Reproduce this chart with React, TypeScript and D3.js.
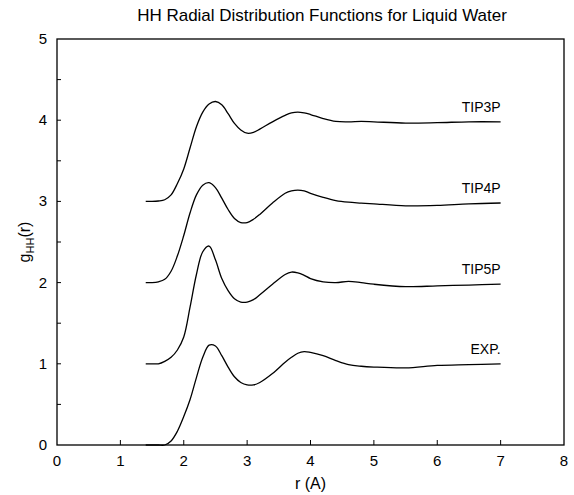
import React from "react";
import * as d3 from "d3";

const title = "HH Radial Distribution Functions for Liquid Water";
const xTicks = [0, 1, 2, 3, 4, 5, 6, 7, 8];
const yTicks = [0, 1, 2, 3, 4, 5];
const yMinorTicks = [0.5, 1.5, 2.5, 3.5, 4.5];

const rGrid = [1.4, 1.5, 1.6, 1.7, 1.8, 1.9, 2.0, 2.1, 2.2, 2.3, 2.4, 2.5, 2.6, 2.7, 2.8, 2.9, 3.0, 3.1, 3.2, 3.4, 3.6, 3.7, 3.8, 3.9, 4.0, 4.2, 4.4, 4.6, 4.8, 5.0, 5.5, 6.0, 6.5, 7.0];

const tip3p = [0, 0, 0.005, 0.02, 0.08, 0.22, 0.4, 0.66, 0.92, 1.1, 1.2, 1.23, 1.19, 1.08, 0.96, 0.88, 0.84, 0.85, 0.89, 0.98, 1.06, 1.09, 1.1, 1.09, 1.07, 1.02, 0.985, 0.98, 0.985, 0.98, 0.965, 0.97, 0.98, 0.98];
const tip4p = [0, 0, 0.01, 0.04, 0.14, 0.33, 0.58, 0.86, 1.08, 1.2, 1.23, 1.17, 1.04, 0.9, 0.79, 0.74, 0.74, 0.78, 0.84, 0.98, 1.1, 1.13, 1.14, 1.13, 1.1, 1.05, 1.01, 0.99, 0.98, 0.97, 0.945, 0.95, 0.97, 0.98];
const tip5p = [0, 0, 0.0, 0.03, 0.08, 0.17, 0.33, 0.7, 1.1, 1.38, 1.45, 1.28, 1.05, 0.9, 0.8, 0.76, 0.76, 0.79, 0.85, 0.98, 1.1, 1.13, 1.12, 1.09, 1.05, 1.01, 1.0, 1.015, 1.0, 0.98, 0.95, 0.96, 0.97, 0.98];
const expt = [0, 0, 0, 0, 0.05, 0.17, 0.35, 0.56, 0.83, 1.08, 1.23, 1.22, 1.1, 0.96, 0.84, 0.77, 0.74, 0.74, 0.77, 0.88, 1.02, 1.08, 1.13, 1.15, 1.14, 1.1, 1.04, 0.99, 0.97, 0.96, 0.95, 0.98, 0.99, 1.0];

const seriesNames = ["TIP3P", "TIP4P", "TIP5P", "EXP."];
const seriesValues = [tip3p, tip4p, tip5p, expt];
const seriesOffsets = [3, 2, 1, 0];

const W = 574;
const H = 495;
const m = { left: 57, right: 10, top: 39, bottom: 50 };

export default function App() {
  const x = d3.scaleLinear().domain([0, 8]).range([m.left, W - m.right]);
  const y = d3.scaleLinear().domain([0, 5]).range([H - m.bottom, m.top]);
  const line = d3
    .line<[number, number]>()
    .x((d) => x(d[0]))
    .y((d) => y(d[1]))
    .curve(d3.curveCatmullRom.alpha(0.5));

  const font = "'Liberation Sans', Arial, Helvetica, sans-serif";
  const x0 = x(0), x1 = x(8), yb = y(0), yt = y(5);

  return (
    <svg width={W} height={H} style={{ position: "absolute", left: 0, top: 0, background: "#fff" }} fontFamily={font}>
      <rect x={0} y={0} width={W} height={H} fill="#fff" />
      <text x={322} y={21} textAnchor="middle" fontSize={17}>{title}</text>
      <rect x={x0} y={yt} width={x1 - x0} height={yb - yt} fill="none" stroke="#000" strokeWidth={1.3} />
      {xTicks.slice(1, -1).map((t) => (
        <line key={"xt" + t} x1={x(t)} x2={x(t)} y1={yb} y2={yb - 5} stroke="#000" strokeWidth={1} />
      ))}
      {xTicks.map((t) => (
        <text key={"xl" + t} x={x(t)} y={yb + 21} textAnchor="middle" fontSize={15}>{t}</text>
      ))}
      {[...yTicks.slice(1, -1), ...yMinorTicks].map((t) => (
        <line key={"yt" + t} x1={x0} x2={x0 + 4} y1={y(t)} y2={y(t)} stroke="#000" strokeWidth={1} />
      ))}
      {yTicks.map((t) => (
        <text key={"yl" + t} x={x0 - 10} y={y(t) + 5} textAnchor="end" fontSize={15}>{t}</text>
      ))}
      <text x={(x0 + x1) / 2} y={489} textAnchor="middle" fontSize={16}>r (A)</text>
      <text transform={`translate(30, ${(yb + yt) / 2}) rotate(-90)`} textAnchor="middle" fontSize={16}>
        g<tspan fontSize={11} dy={4}>HH</tspan><tspan dy={-4}>(r)</tspan>
      </text>
      {seriesValues.map((vals, i) => {
        const pts: [number, number][] = rGrid.map((r, j) => [r, vals[j] + seriesOffsets[i]]);
        const last = pts[pts.length - 1];
        return (
          <g key={seriesNames[i]}>
            <path d={line(pts) || ""} fill="none" stroke="#000" strokeWidth={1.3} />
            <text x={x(last[0])} y={y(last[1]) - 10} textAnchor="end" fontSize={14}>{seriesNames[i]}</text>
          </g>
        );
      })}
    </svg>
  );
}
